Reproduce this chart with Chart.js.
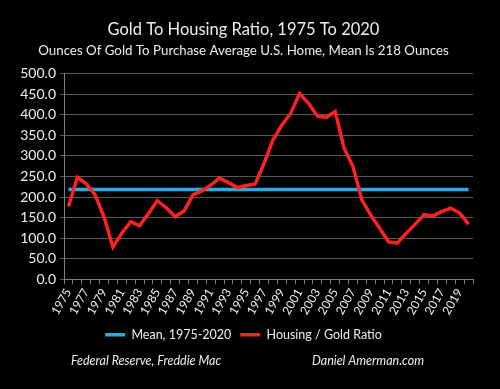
<!DOCTYPE html>
<html>
<head>
<meta charset="utf-8">
<script src="https://cdn.jsdelivr.net/npm/chart.js@4"></script>
<style>
  html, body { margin: 0; padding: 0; background: #000; }
  #wrap { width: 500px; height: 389px; }
</style>
</head>
<body>
<div id="wrap"><canvas id="ratio-chart"></canvas></div>
<script>
const years = ['1975','1976','1977','1978','1979','1980','1981','1982','1983','1984',
  '1985','1986','1987','1988','1989','1990','1991','1992','1993','1994',
  '1995','1996','1997','1998','1999','2000','2001','2002','2003','2004',
  '2005','2006','2007','2008','2009','2010','2011','2012','2013','2014',
  '2015','2016','2017','2018','2019','2020'];

const ratio = [177, 248, 232, 205, 152, 78, 112, 140, 130, 160,
  191, 174, 152, 166, 205, 215, 229, 246, 235, 223,
  228, 232, 282, 339, 375, 404, 452, 428, 397, 394,
  408, 319, 274, 193, 156, 124, 91, 88, 112, 134,
  157, 154, 165, 173, 161, 134];

const mean = [218, 218, 218, 218, 218, 218, 218, 218, 218, 218,
  218, 218, 218, 218, 218, 218, 218, 218, 218, 218,
  218, 218, 218, 218, 218, 218, 218, 218, 218, 218,
  218, 218, 218, 218, 218, 218, 218, 218, 218, 218,
  218, 218, 218, 218, 218, 218];

const sources = ['Federal Reserve, Freddie Mac', 'Daniel Amerman.com'];

const FONT = 'Lato, "Open Sans", sans-serif';
const TEXT = '#ededed';

// footer credits under the legend
const footerText = {
    id: 'footerText',
    afterDraw(chart) {
        const c = chart.ctx;
        c.save();
        c.font = 'italic 12.5px ' + FONT;
        c.fillStyle = TEXT;
        c.textAlign = 'center';
        c.textBaseline = 'middle';
        c.fillText(sources[0], 146, 361);
        c.fillText(sources[1], 368, 361);
        c.restore();
    }
};

const ctx = document.getElementById('ratio-chart').getContext('2d');
new Chart(ctx, {
    type: 'line',
    data: {
        labels: years,
        datasets: [{
            label: 'Mean, 1975-2020',
            data: mean,
            borderColor: '#29abe2',
            backgroundColor: '#29abe2',
            borderWidth: 3.5,
            pointRadius: 0,
            order: 1
        }, {
            label: 'Housing / Gold Ratio',
            data: ratio,
            borderColor: '#ff2121',
            backgroundColor: '#ff2121',
            borderWidth: 3.5,
            pointRadius: 0,
            tension: 0,
            order: 0
        }]
    },
    options: {
        responsive: true,
        maintainAspectRatio: false,
        animation: false,
        layout: { padding: { left: 14, right: 27, top: 20, bottom: 38 } },
        plugins: {
            title: {
                display: true,
                text: 'Gold To Housing Ratio, 1975 To 2020',
                color: TEXT,
                font: { family: FONT, size: 16.5, weight: 'normal' },
                padding: { top: 0, bottom: 3 }
            },
            subtitle: {
                display: true,
                text: 'Ounces Of Gold To Purchase Average U.S. Home, Mean Is 218 Ounces',
                color: TEXT,
                font: { family: FONT, size: 13.3, weight: 'normal' },
                padding: { top: 0, bottom: 15 }
            },
            legend: {
                position: 'bottom',
                labels: {
                    color: TEXT,
                    font: { family: FONT, size: 12.5 },
                    usePointStyle: true,
                    pointStyle: 'line',
                    pointStyleWidth: 20,
                    padding: 9,
                    sort: (a, b) => a.datasetIndex - b.datasetIndex
                }
            },
            tooltip: { enabled: false }
        },
        scales: {
            x: {
                offset: true,
                grid: { display: true, drawOnChartArea: false, drawTicks: true, tickLength: 5, color: '#7f7f7f', offset: true },
                border: { color: '#7f7f7f' },
                ticks: {
                    color: TEXT,
                    font: { family: FONT, size: 12 },
                    autoSkip: false,
                    minRotation: 60,
                    maxRotation: 60,
                    padding: 2,
                    callback: function (val, i) { return i % 2 === 0 ? years[i] : ''; }
                }
            },
            y: {
                min: 0,
                max: 500,
                afterFit(scale) { scale.width = 50; },
                grid: { color: '#5a5a5a', tickLength: 4 },
                border: { color: '#7f7f7f' },
                ticks: {
                    stepSize: 50,
                    autoSkip: false,
                    color: TEXT,
                    font: { family: FONT, size: 14 },
                    padding: 4,
                    callback: v => v.toFixed(1)
                }
            }
        }
    },
    plugins: [footerText]
});
</script>
</body>
</html>
